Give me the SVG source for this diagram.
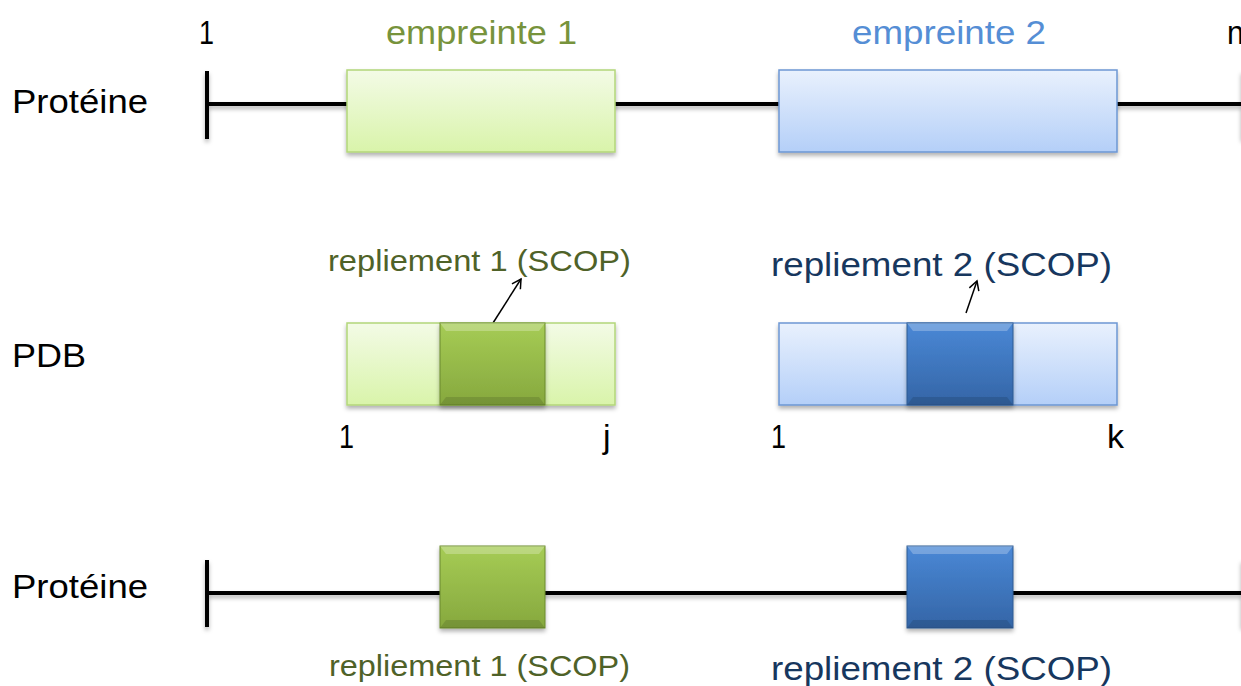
<svg xmlns="http://www.w3.org/2000/svg" width="1241" height="686" viewBox="0 0 1241 686">
<defs>
<linearGradient id="lg" x1="0" y1="0" x2="0" y2="1"><stop offset="0" stop-color="#f3fbe6"/><stop offset="1" stop-color="#d9f4aa"/></linearGradient>
<linearGradient id="lb" x1="0" y1="0" x2="0" y2="1"><stop offset="0" stop-color="#e9f1fd"/><stop offset="1" stop-color="#b4cff8"/></linearGradient>
<linearGradient id="dg" x1="0" y1="0" x2="0" y2="1"><stop offset="0" stop-color="#a6cc55"/><stop offset="1" stop-color="#86a83e"/></linearGradient>
<linearGradient id="db" x1="0" y1="0" x2="0" y2="1"><stop offset="0" stop-color="#4a88d6"/><stop offset="1" stop-color="#3465a6"/></linearGradient>
<filter id="sh" x="-10%" y="-10%" width="120%" height="140%"><feDropShadow dx="0" dy="3" stdDeviation="2" flood-color="#000" flood-opacity="0.3"/></filter>
<marker id="ah" markerWidth="12" markerHeight="12" refX="10" refY="6" orient="auto" markerUnits="userSpaceOnUse"><path d="M1,1 L10,6 L1,11" fill="none" stroke="#000" stroke-width="1.5"/></marker>
</defs>
<style>
.t{font-family:"Liberation Sans",Arial,sans-serif;font-size:34px;fill:#000}
.ln{stroke:#000;stroke-width:4;fill:none;filter:url(#sh)}
.g1{fill:#77933c}.b1{fill:#558ed5}.g2{fill:#4f6228}.b2{fill:#17375e}
.boxg{fill:url(#lg);stroke:#b3d67a;stroke-width:1.5;filter:url(#sh)}
.boxb{fill:url(#lb);stroke:#6d97d3;stroke-width:1.5;filter:url(#sh)}
.dg{fill:url(#dg);stroke:#6b8a2e;stroke-width:1;filter:url(#sh)}
.db{fill:url(#db);stroke:#2f5a92;stroke-width:1;filter:url(#sh)}
.hi{fill:#fff;opacity:0.25}.lo{fill:#000;opacity:0.12}
.arr{stroke:#000;stroke-width:1.5;fill:none;marker-end:url(#ah)}
</style>

<g id="labels">
<text class="t" x="12" y="113" textLength="136" lengthAdjust="spacingAndGlyphs">Protéine</text>
<text class="t" x="12" y="367" textLength="74" lengthAdjust="spacingAndGlyphs">PDB</text>
<text class="t" x="12" y="598" textLength="136" lengthAdjust="spacingAndGlyphs">Protéine</text>
<text class="t" x="199" y="44" textLength="15" lengthAdjust="spacingAndGlyphs">1</text>
<text class="t" x="1227" y="44" textLength="17" lengthAdjust="spacingAndGlyphs">n</text>
<text class="t g1" x="386" y="44" textLength="191" lengthAdjust="spacingAndGlyphs">empreinte 1</text>
<text class="t b1" x="852" y="44" textLength="194" lengthAdjust="spacingAndGlyphs">empreinte 2</text>
<text class="t" x="339" y="448" textLength="15" lengthAdjust="spacingAndGlyphs">1</text>
<text class="t" x="603" y="448">j</text>
<text class="t" x="771" y="448" textLength="15" lengthAdjust="spacingAndGlyphs">1</text>
<text class="t" x="1107" y="448" textLength="17" lengthAdjust="spacingAndGlyphs">k</text>
<text class="t g2" x="328" y="271" style="font-size:30px" textLength="303" lengthAdjust="spacingAndGlyphs">repliement 1 (SCOP)</text>
<text class="t b2" x="771" y="276" textLength="341" lengthAdjust="spacingAndGlyphs">repliement 2 (SCOP)</text>
<text class="t g2" x="329" y="676" style="font-size:30px" textLength="301" lengthAdjust="spacingAndGlyphs">repliement 1 (SCOP)</text>
<text class="t b2" x="771" y="680" textLength="341" lengthAdjust="spacingAndGlyphs">repliement 2 (SCOP)</text>
</g>

<g id="connectors">
<path class="ln" d="M207,104 H1241 M207,71 V139 M1243,71 V139"/>
<path class="ln" d="M207,593 H1241 M207,560 V627 M1243,560 V627"/>
<line class="arr" x1="493" y1="323" x2="521" y2="279"/>
<line class="arr" x1="966" y1="313" x2="977" y2="281"/>
</g>

<g id="empreinte1"><rect class="boxg" x="347" y="70" width="268" height="82"/></g>
<g id="empreinte2"><rect class="boxb" x="779" y="70" width="338" height="82"/></g>

<g id="pdb1">
<rect class="boxg" x="347" y="323" width="268" height="82"/>
<rect class="dg" x="440" y="323" width="105" height="82"/>
<polygon class="hi" points="440,323 545,323 539,331 446,331"/>
<polygon class="lo" points="440,405 545,405 539,397 446,397"/>
</g>
<g id="pdb2">
<rect class="boxb" x="779" y="323" width="338" height="82"/>
<rect class="db" x="907" y="323" width="106" height="82"/>
<polygon class="hi" points="907,323 1013,323 1007,331 913,331"/>
<polygon class="lo" points="907,405 1013,405 1007,397 913,397"/>
</g>
<g id="fold1">
<rect class="dg" x="440" y="546" width="105" height="82"/>
<polygon class="hi" points="440,546 545,546 539,554 446,554"/>
<polygon class="lo" points="440,628 545,628 539,620 446,620"/>
</g>
<g id="fold2">
<rect class="db" x="907" y="546" width="106" height="82"/>
<polygon class="hi" points="907,546 1013,546 1007,554 913,554"/>
<polygon class="lo" points="907,628 1013,628 1007,620 913,620"/>
</g>
</svg>
